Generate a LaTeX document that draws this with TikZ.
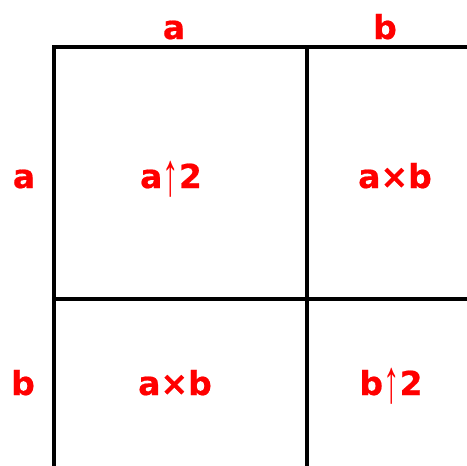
\documentclass[tikz,border=0pt]{standalone}
\usepackage{fontspec}
\setmainfont{DejaVu Sans}[BoldFeatures={FakeBold=0.6}]
\newfontfamily\arrowfont{Liberation Sans}
\newcommand{\uparr}{{\arrowfont\mdseries\raisebox{-7pt}{\scalebox{1}[1.85]{↑}}}}
\begin{document}
\begin{tikzpicture}[x=1pt,y=-1pt,
  gridline/.style={line width=3.5pt,black},
  lbl/.style={text=red,font=\fontsize{33}{36}\selectfont\bfseries,inner sep=0pt,anchor=base}]
\useasboundingbox (0,0) rectangle (467,466);
\fill[white] (0,0) rectangle (467,466);
\coordinate (tl) at (54,47);
\coordinate (tr) at (467,47);
\coordinate (ml) at (54,299);
\coordinate (mr) at (467,299);
\coordinate (bl) at (54,466);
\coordinate (tm) at (307,47);
\coordinate (bm) at (307,466);
\draw[gridline] (tr) -- (tl) -- (bl);
\draw[gridline] (ml) -- (mr);
\draw[gridline] (tm) -- (bm);
\node[lbl] (ta) at (174,39) {a};
\node[lbl] (tb) at (385,39) {b};
\node[lbl] (la) at (24,188) {a};
\node[lbl] (lb) at (23,395) {b};
\node[lbl] (c11) at (171,188) {a\uparr 2};
\node[lbl] (c12) at (395,188) {a×b};
\node[lbl] (c21) at (175,395) {a×b};
\node[lbl] (c22) at (391,395) {b\uparr 2};
\end{tikzpicture}
\end{document}
